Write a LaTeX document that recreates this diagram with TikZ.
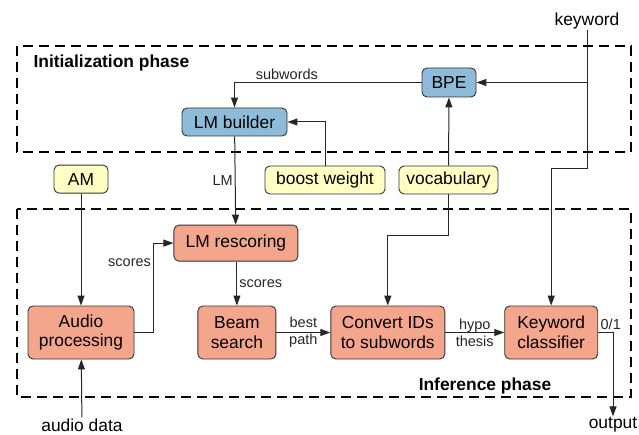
\documentclass[tikz,border=0pt]{standalone}
\usepackage{fontspec}
\setmainfont{Liberation Sans}
\usetikzlibrary{arrows.meta,positioning}
\definecolor{initblue}{RGB}{142,187,216}
\definecolor{infsalmon}{RGB}{244,166,141}
\definecolor{paryellow}{RGB}{255,255,196}
\begin{document}
\begin{tikzpicture}[x=1pt, y=-1pt, every node/.style={font=\fontsize{17.4}{20}\selectfont},
			b/.style={draw=black!80, rounded corners=5pt, line width=0.9pt, align=center, inner sep=2pt},
			ib/.style={b, fill=initblue, minimum height=28pt},
			pb/.style={b, fill=paryellow, minimum height=28pt},
			fb/.style={b, fill=infsalmon, minimum height=53pt},
			lbl/.style={font=\fontsize{14.5}{17}\selectfont, inner sep=2pt, align=center},
			phase/.style={font=\bfseries\fontsize{17.4}{20}\selectfont},
			io/.style={inner sep=1pt},
			arr/.style={-{Triangle[length=10pt,width=7pt]}, line width=1pt, black!85},
			dbox/.style={dash pattern=on 10pt off 6pt, line width=2.6pt}]
			\useasboundingbox (0,0) rectangle (639,435);
			% phase frames
			\draw[dbox] (17,46) rectangle (631,152);
			\draw[dbox] (17,209) rectangle (631,397);
			\node[phase, anchor=west] (initlbl) at (30,63) {Initialization phase};
			\node[phase] (inflbl) at (485,386) {Inference phase};
			% inference row
			\node[fb, minimum width=106pt] (ap) at (81,332.5) {Audio\\processing};
			\node[fb, minimum width=78pt, right=63pt of ap] (bs) {Beam\\search};
			\node[fb, minimum width=114pt, right=54pt of bs] (cv) {Convert IDs\\to subwords};
			\node[fb, minimum width=93pt, right=59pt of cv] (kc) {Keyword\\classifier};
			\node[b, fill=infsalmon, minimum width=124pt, minimum height=36pt, above=44pt of bs.north west, anchor=south west, xshift=-24pt] (lmr) {LM rescoring};
			% parameters and init blocks
			\node[pb, minimum width=54pt, above=112pt of ap] (am) {AM};
			\node[pb, minimum width=120pt] (bw) at (325,180) {boost weight};
			\node[pb, minimum width=99pt] (voc) at (448.5,180) {vocabulary};
			\node[ib, minimum width=105pt] (lmb) at (234.5,122) {LM builder};
			\node[ib, minimum width=54pt, minimum height=29pt] (bpe) at (449,82.5) {BPE};
			% inputs and outputs
			\node[io] (kw) at (587,21) {keyword};
			\node[io] (ad) at (82,425) {audio data};
			\node[io] (out) at (613,425) {output};
			\coordinate (kwbend) at (587,169);
			% connectors
			\draw[arr] (kw) -- (kwbend) -| (kc);
			\draw[arr] (kw |- bpe) -- (bpe);
			\draw[arr] (bpe) -| (lmb) node[lbl, above, pos=0.36] {subwords};
			\draw[arr] (bw) |- (lmb);
			\draw[arr] (voc) -- (bpe);
			\draw[arr] (voc) -- ++(0,56) -| (cv);
			\draw[arr] (lmb) -- (lmr) node[lbl, left, midway] {LM};
			\draw[arr] (am) -- (ap);
			\draw[arr] (ad) -- (ap);
			\draw[arr] (ap.east) -- ++(19,0) |- (lmr) node[lbl, left, pos=0.39] {scores};
			\draw[arr] (lmr.south -| bs) -- (bs) node[lbl, right, midway] {scores};
			\draw[arr] (bs) -- (cv) node[lbl, midway] {best\\path};
			\draw[arr] (cv) -- (kc) node[lbl, midway] {hypo\\thesis};
			\draw[arr] (kc) -| (out) node[lbl, anchor=south west, pos=0] {0/1};
		\end{tikzpicture}
\end{document}
